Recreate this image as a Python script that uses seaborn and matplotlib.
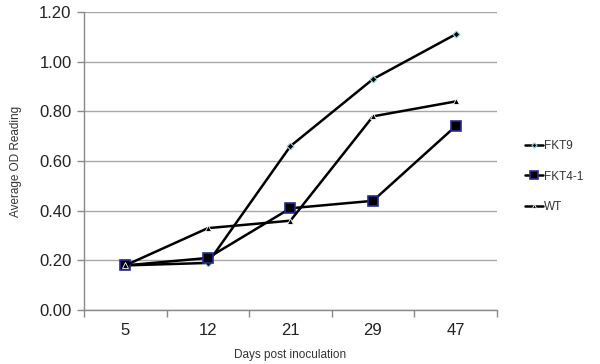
import matplotlib
matplotlib.use("Agg")
import matplotlib.pyplot as plt
import seaborn as sns
import pandas as pd
import numpy as np

days = ["5", "12", "21", "29", "47"]
fkt9 = [0.18, 0.19, 0.66, 0.93, 1.11]
fkt41 = [0.18, 0.21, 0.41, 0.44, 0.74]
wt = [0.18, 0.33, 0.36, 0.78, 0.84]
series_names = ["FKT9", "FKT4-1", "WT"]
yticks = [0.0, 0.2, 0.4, 0.6, 0.8, 1.0, 1.2]

sns.set_theme(style="white")
plt.rcParams['font.family'] = ['Liberation Sans', 'DejaVu Sans']

df = pd.DataFrame({
    "day": days * 3,
    "od": fkt9 + fkt41 + wt,
    "series": [s for s in series_names for _ in days],
})

fig = plt.figure(figsize=(6.0, 3.64), dpi=100)
ax = fig.add_axes([0.14, 0.148, 0.688, 0.819])

styles = {
    "FKT9": dict(marker="D", ms=3.5, mfc="black", mec="#8fd8d8", mew=0.8),
    "FKT4-1": dict(marker="s", ms=7, mfc="black", mec="#2a2a9a", mew=1.2),
    "WT": dict(marker="^", ms=4, mfc="black", mec="white", mew=0.6),
}
for name in series_names:
    sub = df[df.series == name]
    sns.lineplot(data=sub, x="day", y="od", ax=ax, color="black", lw=1.8,
                 label=name, sort=False, **styles[name])

ax.set_ylim(0, 1.2)
ax.set_xlim(-0.5, 4.5)
ax.set_yticks(yticks)
ax.set_yticklabels([f"{v:.2f}" for v in yticks], fontsize=12, color="#222222")
ax.set_xticks(range(len(days)))
ax.set_xticklabels(days, fontsize=12, color="#222222")
ax.set_xticks(np.arange(-0.5, 5, 1), minor=True)
ax.tick_params(axis="x", which="major", length=0, pad=9)
ax.tick_params(axis="x", which="minor", length=5, color="#888888", width=1, direction="out", bottom=True)
ax.tick_params(axis="y", length=5, color="#888888", width=1, direction="out", left=True, pad=4)
ax.yaxis.grid(True, color="#a8a8a8", lw=1)
ax.set_axisbelow(True)
for s in ["top", "right"]:
    ax.spines[s].set_visible(False)
for s in ["left", "bottom"]:
    ax.spines[s].set_color("#888888")
    ax.spines[s].set_linewidth(1)

ax.set_xlabel("Days post inoculation", fontsize=8.5, labelpad=8, color="#333333")
ax.set_ylabel("Average OD Reading", fontsize=8.5, labelpad=12, color="#333333")

ax.legend_.remove()
handles, labels = ax.get_legend_handles_labels()
fig.legend(handles, labels, loc="center left", bbox_to_anchor=(0.858, 0.515),
           frameon=False, fontsize=8.5, handlelength=1.5, handletextpad=0.05,
           labelspacing=1.6, markerscale=0.75, labelcolor="#333333")

fig.savefig("out.png", dpi=100)
